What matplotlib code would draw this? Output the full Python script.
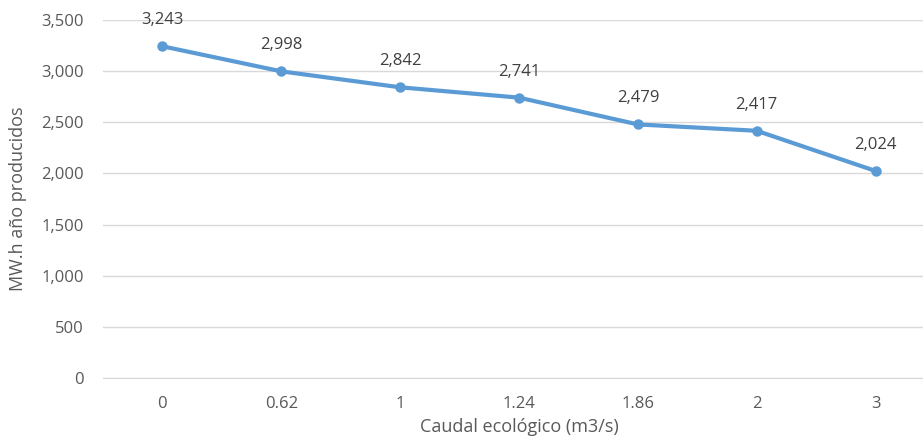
import matplotlib.pyplot as plt

caudal = ["0", "0.62", "1", "1.24", "1.86", "2", "3"]
energia = [3243, 2998, 2842, 2741, 2479, 2417, 2024]

plt.rcParams["font.family"] = ["Open Sans", "DejaVu Sans"]
gray = "#595959"

fig = plt.figure(figsize=(9.23, 4.48), dpi=100)
# plot area runs a little past the right edge, as in the reference crop
ax = fig.add_axes([103 / 923, (448 - 378) / 448, (935 - 103) / 923, (378 - 20) / 448])

x = list(range(len(caudal)))
ax.plot(x, energia, color="#5B9BD5", linewidth=3, marker="o", markersize=6.5)
for xi, v in zip(x, energia):
    ax.annotate(f"{v:,}", (xi, v), xytext=(0, 13), textcoords="offset points",
                ha="center", va="bottom", fontsize=12, color="#404040")

ax.set_xlim(-0.5, len(caudal) - 0.5)
ax.set_ylim(0, 3500)
ax.set_yticks(range(0, 3501, 500))
ax.set_yticklabels([f"{t:,}" for t in range(0, 3501, 500)])
ax.set_xticks(x)
ax.set_xticklabels(caudal)
ax.grid(axis="y", color="#D9D9D9", linewidth=1)
ax.set_axisbelow(True)
for s in ["top", "right", "left"]:
    ax.spines[s].set_visible(False)
ax.spines["bottom"].set_color("#D9D9D9")
ax.tick_params(length=0, labelsize=12, colors=gray)
ax.tick_params(axis="y", pad=14)
ax.tick_params(axis="x", pad=13)
ax.set_xlabel("Caudal ecológico (m3/s)", fontsize=13, color=gray, labelpad=4)
ax.set_ylabel("MW.h año producidos", fontsize=13, color=gray, labelpad=10)

fig.savefig("out.png", dpi=100)
